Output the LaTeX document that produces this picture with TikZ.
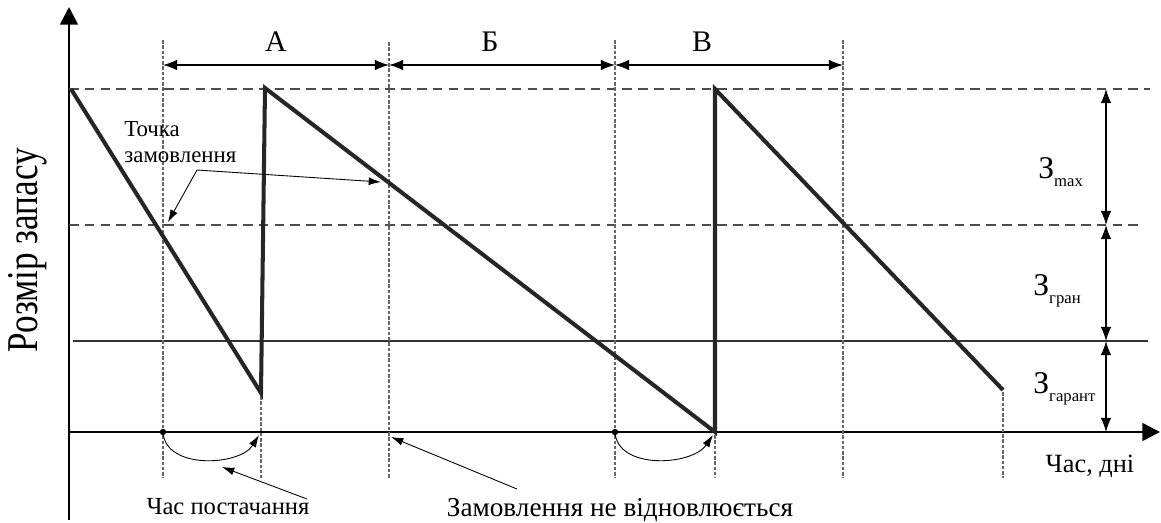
\documentclass[tikz,border=0pt]{standalone}
\usepackage{fontspec}
\setmainfont{Liberation Serif}
\usetikzlibrary{arrows.meta, positioning}

\newcommand{\zlevel}[1]{З\raisebox{-0.6ex}{\fontsize{9.5}{9.5}\selectfont #1}}

\begin{document}
\begin{tikzpicture}[x=0.02cm, y=-0.02cm,
  stock/.style={line width=2.3pt, black!85},
  guide/.style={black!60, line width=0.6pt, dash pattern=on 2pt off 1pt},
  level/.style={black!70, line width=0.7pt, dash pattern=on 5.5pt off 3.5pt},
  dimline/.style={line width=0.7pt, {Latex[length=8pt,width=6pt]}-{Latex[length=8pt,width=6pt]}},
  note/.style={line width=0.5pt, -{Latex[length=7pt,width=4.5pt]}},
  axis/.style={line width=1.5pt, -{Triangle[length=10pt,width=10pt]}},
  lbl/.style={font=\fontsize{14}{14}\selectfont}]
\useasboundingbox (0,0) rectangle (1161,522);

% Axes
\coordinate (O) at (69,432);
\coordinate (ybot) at (69,520);
\coordinate (ytip) at (69,7);
\coordinate (xtip) at (1160,432);
\draw[axis] (ybot) -- (ytip);
\draw[axis] (O) -- (xtip);
\node[font=\fontsize{25}{25}\selectfont, rotate=90] (ylab) at (28,250) {\scalebox{0.8}[1]{Розмір запасу}};
\node[font=\fontsize{15}{15}\selectfont] (xlab) at (1090,466) {Час, дні};

% Stock levels
\draw[level] (69,89) -- (1150,89);
\draw[level] (69,225) -- (1140,225);
\draw[black!80, line width=0.6pt] (73,341) -- (1148,341);

% Guides
\foreach \x/\t in {163/40, 389/42, 615/40, 843/40}
  \draw[guide] (\x,\t) -- (\x,478);
\foreach \x/\t in {261/396, 715/435, 1003/392}
  \draw[guide] (\x,\t) -- (\x,478);

% Periods
\coordinate (g1) at (163,65);
\coordinate (g2) at (389,65);
\coordinate (g3) at (615,65);
\coordinate (g4) at (843,65);
\draw[dimline] (g1) -- (g2);
\draw[dimline] (g2) -- (g3);
\draw[dimline] (g3) -- (g4);
\node[font=\fontsize{17}{17}\selectfont] (secA) at (276,42) {А};
\node[font=\fontsize{17}{17}\selectfont] (secB) at (490,42) {Б};
\node[font=\fontsize{17}{17}\selectfont] (secV) at (702,42) {В};

% Stock curve
\coordinate (p0) at (71,89);
\coordinate (p1) at (261,393);
\coordinate (p2) at (265,88);
\coordinate (p3) at (715,432);
\coordinate (p4) at (715,89);
\coordinate (p5) at (1003,390);
\draw[stock] (p0) -- (p1) -- (p2) -- (p3) -- (p4) -- (p5);

% Right scale
\coordinate (r1) at (1106,89);
\coordinate (r2) at (1106,225);
\coordinate (r3) at (1106,341);
\coordinate (r4) at (1106,432);
\draw[dimline] (r1) -- (r2);
\draw[dimline] (r2) -- (r3);
\draw[dimline] (r3) -- (r4);
\node[font=\fontsize{18}{18}\selectfont, anchor=base west, inner sep=0pt] (zmax) at (1038,178) {\zlevel{max}};
\node[font=\fontsize{18}{18}\selectfont, anchor=base west, inner sep=0pt] (zgran) at (1033,295) {\zlevel{гран}};
\node[font=\fontsize{18}{18}\selectfont, anchor=base west, inner sep=0pt] (zgar) at (1033,393) {\zlevel{гарант}};

% Order point
\node[font=\fontsize{13}{15}\selectfont, align=left, anchor=north west, inner sep=0pt] (order) at (124,121) {Точка\\замовлення};
\coordinate (bend) at (197,170);
\coordinate (hit1) at (168,222);
\coordinate (hit2) at (381,182);
\draw[note] (bend) -- (hit1);
\draw[note] (bend) -- (hit2);

% Delivery time
\coordinate (d1) at (163,432);
\coordinate (d2) at (615,432);
\fill (d1) circle (3.2);
\fill (d2) circle (3.2);
\draw[note] (d1) .. controls (165,470) and (240,466) .. (259,435);
\draw[note] (d2) .. controls (617,470) and (692,466) .. (713,435);
\node[lbl] (deliv) at (228,507) {Час постачання};
\coordinate (dfrom) at (307,499);
\coordinate (dto) at (222,467);
\draw[note] (dfrom) -- (dto);

% No reorder
\node[font=\fontsize{15.5}{15.5}\selectfont] (noord) at (620,510) {Замовлення не відновлюється};
\coordinate (nfrom) at (517,489);
\coordinate (nto) at (391,437);
\draw[note] (nfrom) -- (nto);

\end{tikzpicture}
\end{document}
